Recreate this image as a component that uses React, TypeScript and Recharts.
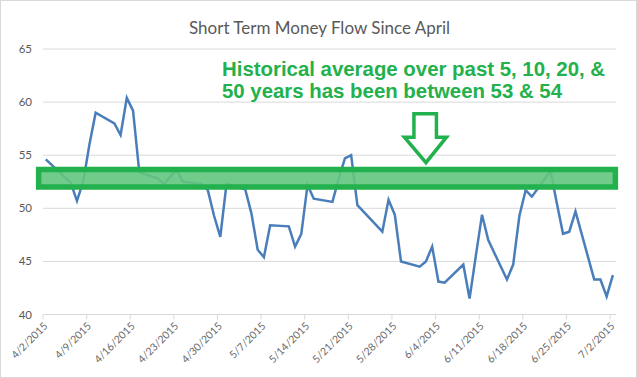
import React from 'react';
import { LineChart, Line, XAxis, YAxis, CartesianGrid, ReferenceArea, ReferenceDot } from 'recharts';

const dates = [
  '4/2/2015', '4/6/2015', '4/7/2015', '4/8/2015', '4/9/2015', '4/10/2015',
  '4/13/2015', '4/14/2015', '4/15/2015', '4/16/2015', '4/17/2015',
  '4/20/2015', '4/21/2015', '4/22/2015', '4/23/2015', '4/24/2015',
  '4/27/2015', '4/28/2015', '4/29/2015', '4/30/2015', '5/1/2015',
  '5/4/2015', '5/5/2015', '5/6/2015', '5/7/2015', '5/8/2015',
  '5/11/2015', '5/12/2015', '5/13/2015', '5/14/2015', '5/15/2015',
  '5/18/2015', '5/19/2015', '5/20/2015', '5/21/2015', '5/22/2015',
  '5/26/2015', '5/27/2015', '5/28/2015', '5/29/2015',
  '6/1/2015', '6/2/2015', '6/3/2015', '6/4/2015', '6/5/2015',
  '6/8/2015', '6/9/2015', '6/10/2015', '6/11/2015', '6/12/2015',
  '6/15/2015', '6/16/2015', '6/17/2015', '6/18/2015', '6/19/2015',
  '6/22/2015', '6/23/2015', '6/24/2015', '6/25/2015', '6/26/2015',
  '6/29/2015', '6/30/2015', '7/1/2015', '7/2/2015',
];

const moneyFlow = [
  54.6, 52.4, 50.7, 52.5, 56.0, 59.0,
  58.0, 56.9, 60.4, 59.2, 53.4,
  52.8, 52.3, 53.0, 53.6, 52.5,
  52.3, 51.7, 49.3, 47.3, 52.3,
  51.8, 49.5, 46.1, 45.4, 48.4,
  48.3, 46.4, 47.6, 52.2, 50.9,
  50.6, 52.8, 54.7, 55.0, 50.3,
  47.8, 50.8, 49.4, 45.0,
  44.5, 45.0, 46.4, 43.1, 43.0,
  44.7, 41.5, 45.5, 49.4, 47.0,
  43.3, 44.7, 49.3, 51.7, 51.1,
  53.5, 50.5, 47.6, 47.8, 49.7,
  43.3, 43.3, 41.7, 43.7,
];

const tickDates = [
  '4/2/2015', '4/9/2015', '4/16/2015', '4/23/2015', '4/30/2015', '5/7/2015', '5/14/2015',
  '5/21/2015', '5/28/2015', '6/4/2015', '6/11/2015', '6/18/2015', '6/25/2015', '7/2/2015',
];

const yTicks = [40, 45, 50, 55, 60, 65];

const title = 'Short Term Money Flow Since April';
const noteLines = ['Historical average over past 5, 10, 20, &', '50 years has been between 53 & 54'];
const avgBand = { from: 52.0, to: 53.65 };

const BASE = Date.UTC(2015, 3, 2);
const dayOf = (s: string) => {
  const [m, d, y] = s.split('/').map(Number);
  return Math.round((Date.UTC(y, m - 1, d) - BASE) / 86400000);
};

const data = dates.map((d, i) => ({ day: dayOf(d), value: moneyFlow[i] }));
const TICK_SHIFT = -0.45;
const xTicks = tickDates.map((d) => dayOf(d) + TICK_SHIFT);
const labelFor = (v: number) => {
  const i = xTicks.findIndex((t) => Math.abs(t - v) < 1e-6);
  return i >= 0 ? tickDates[i] : '';
};

const GREEN = '#22b14c';

const Arrow = (props: any) => {
  const { cx, cy } = props;
  if (cx == null || cy == null) return null;
  const p = [
    [0, 0], [-21.5, -25.5], [-12, -25.5], [-12, -49], [10.5, -49], [10.5, -25.5], [20.5, -25.5],
  ].map(([dx, dy]) => `${cx + dx},${cy + dy}`).join(' L ');
  return <path d={`M ${p} Z`} fill="none" stroke={GREEN} strokeWidth={3.5} strokeLinejoin="miter" />;
};

export default function App() {
  return (
    <div style={{ position: 'relative', width: 637, height: 378, boxSizing: 'border-box', border: '1px solid #d9d9d9', background: '#fff' }}>
      <style>{'body{margin:0}'}</style>
      <div style={{ position: 'absolute', left: 0, top: 17, width: 637, textAlign: 'center', fontFamily: 'Lato, "Open Sans", sans-serif', fontSize: 17, lineHeight: '20px', color: '#595959' }}>
        {title}
      </div>
      <div style={{ position: 'absolute', left: -1, top: -1 }}>
        <LineChart width={637} height={378} data={data} margin={{ top: 49, right: 21, left: 0, bottom: 0 }}>
          <CartesianGrid vertical={false} stroke="#d9d9d9" strokeWidth={1} />
          <XAxis
            type="number"
            dataKey="day"
            domain={[-0.45, 91.5]}
            ticks={xTicks}
            interval={0}
            tickFormatter={labelFor}
            height={63.5}
            axisLine={{ stroke: '#d9d9d9' }}
            tickLine={{ stroke: '#d9d9d9' }}
            tickSize={5}
            tickMargin={2}
            angle={-45}
            textAnchor="end"
            tick={{ fill: '#6a6a6a', fontSize: 10.5, fontFamily: 'Lato, "Open Sans", sans-serif' }}
          />
          <YAxis
            type="number"
            domain={[40, 65]}
            ticks={yTicks}
            interval={0}
            width={43}
            axisLine={false}
            tickLine={false}
            tickMargin={5}
            tick={{ fill: '#595959', fontSize: 11.5, fontFamily: 'Lato, "Open Sans", sans-serif' }}
          />
          <Line type="linear" dataKey="value" stroke="#4a7ebb" strokeWidth={2.5} dot={false} isAnimationActive={false} />
          <ReferenceArea
            x1={-1.15}
            x2={91.4}
            y1={avgBand.from}
            y2={avgBand.to}
            ifOverflow="visible"
            stroke={GREEN}
            strokeWidth={5.5}
            fill="#62c77e"
            fillOpacity={0.9}
            zIndex={1000}
          />
          <ReferenceDot x={61.0} y={54.3} ifOverflow="visible" shape={Arrow} zIndex={1000} />
        </LineChart>
      </div>
      <div style={{ position: 'absolute', left: 221, top: 57, fontFamily: '"Liberation Sans", Arial, sans-serif', fontWeight: 'bold', fontSize: 20.4, lineHeight: '22px', color: GREEN, whiteSpace: 'nowrap' }}>
        {noteLines.map((l) => (
          <div key={l}>{l}</div>
        ))}
      </div>
    </div>
  );
}
